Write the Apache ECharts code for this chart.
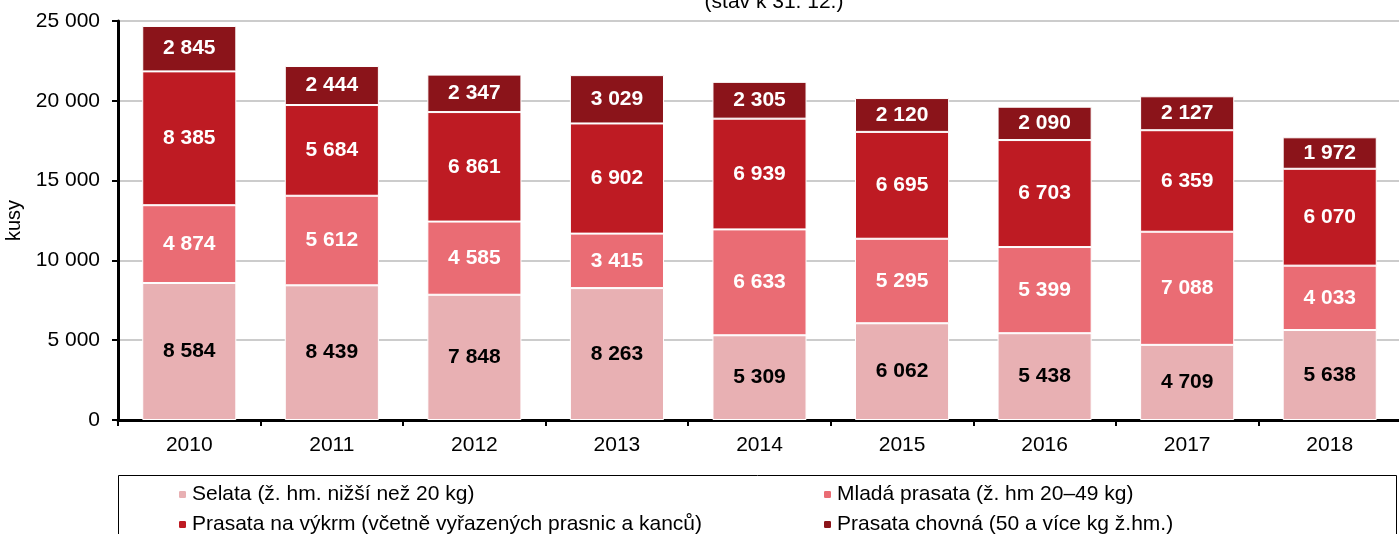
<!DOCTYPE html>
<html>
<head>
<meta charset="UTF-8" />
<script type="text/javascript" src="https://cdn.jsdelivr.net/npm/echarts@6/dist/echarts.min.js"></script>
<title>Stavy prasat</title>
<style>
  html, body { margin: 0; padding: 0; background: #fff; }
  #main { width: 1399px; height: 534px; }
</style>
</head>
<body>
<div id="main"></div>
<script type="text/javascript">
  // roky
  var years = ['2010', '2011', '2012', '2013', '2014', '2015', '2016', '2017', '2018']
  // hodnoty (kusy)
  var selata = [8584, 8439, 7848, 8263, 5309, 6062, 5438, 4709, 5638]
  var mlada = [4874, 5612, 4585, 3415, 6633, 5295, 5399, 7088, 4033]
  var vykrm = [8385, 5684, 6861, 6902, 6939, 6695, 6703, 6359, 6070]
  var chovna = [2845, 2444, 2347, 3029, 2305, 2120, 2090, 2127, 1972]
  var yTicks = [0, 5000, 10000, 15000, 20000, 25000]

  var names = [
    'Selata (ž. hm. nižší než 20 kg)',
    'Mladá prasata (ž. hm 20–49 kg)',
    'Prasata na výkrm (včetně vyřazených prasnic a kanců)',
    'Prasata chovná (50 a více kg ž.hm.)'
  ]
  var colors = ['#E8B0B3', '#EA6C74', '#BE1B23', '#8B141A']
  var values = [selata, mlada, vykrm, chovna]

  function fmt(v) {
    return String(v).replace(/\B(?=(\d{3})+(?!\d))/g, ' ')
  }

  var font = 'Liberation Sans'

  var series = []
  for (var i = 0; i < values.length; i++) {
    series.push({
      name: names[i],
      type: 'bar',
      stack: 'total',
      barWidth: '66%',
      data: values[i],
      itemStyle: { color: colors[i], borderColor: '#fff', borderWidth: 1 },
      label: {
        show: true,
        position: 'inside',
        fontFamily: font,
        fontWeight: 'bold',
        fontSize: 21,
        color: i === 0 ? '#000' : '#fff',
        formatter: function (p) { return fmt(p.value) }
      }
    })
  }

  var legendStyle = { fontFamily: font, fontSize: 21, color: '#000' }

  var option = {
    animation: false,
    title: {
      text: '(stav k 31. 12.)',
      left: 769,
      top: -13,
      textAlign: 'center',
      textStyle: { fontFamily: font, fontWeight: 'normal', fontSize: 21, color: '#000' }
    },
    grid: { left: 118, right: -2, top: 21, bottom: 114, containLabel: false, outerBoundsMode: 'none' },
    legend: [{
      data: [names[0], names[2]],
      orient: 'vertical',
      left: 172,
      top: 479,
      height: 120,
      itemWidth: 9,
      itemHeight: 9,
      itemGap: 9,
      textStyle: legendStyle
    }, {
      data: [names[1], names[3]],
      orient: 'vertical',
      left: 817,
      top: 479,
      height: 120,
      itemWidth: 9,
      itemHeight: 9,
      itemGap: 9,
      textStyle: legendStyle
    }],
    graphic: [{
      type: 'rect',
      shape: { x: 118.5, y: 475.5, width: 1278, height: 80 },
      style: { fill: 'none', stroke: '#000', lineWidth: 1 }
    }, {
      type: 'line',
      shape: { x1: 112, y1: 21, x2: 1399, y2: 21 },
      style: { stroke: '#000', lineWidth: 2 }
    }],
    xAxis: {
      type: 'category',
      data: years,
      axisLine: { lineStyle: { color: '#000', width: 3 } },
      axisTick: { show: true, length: 6, lineStyle: { color: '#000', width: 2 } },
      axisLabel: { fontFamily: font, fontSize: 21, color: '#000', margin: 15 }
    },
    yAxis: {
      type: 'value',
      min: 0,
      max: 25000,
      interval: 5000,
      name: 'kusy',
      nameLocation: 'middle',
      nameGap: 89,
      nameTextStyle: { fontFamily: font, fontSize: 20, color: '#000' },
      axisLine: { show: true, lineStyle: { color: '#000', width: 3 } },
      axisTick: { show: true, length: 6, lineStyle: { color: '#000', width: 2 } },
      axisLabel: {
        fontFamily: font, fontSize: 21, color: '#000', margin: 18,
        formatter: function (v) { return yTicks.indexOf(v) >= 0 ? fmt(v) : '' }
      },
      splitLine: { lineStyle: { color: '#cccccc', width: 2 } }
    },
    series: series
  }

  var myChart = echarts.init(document.getElementById('main'))
  myChart.setOption(option)
</script>
</body>
</html>
